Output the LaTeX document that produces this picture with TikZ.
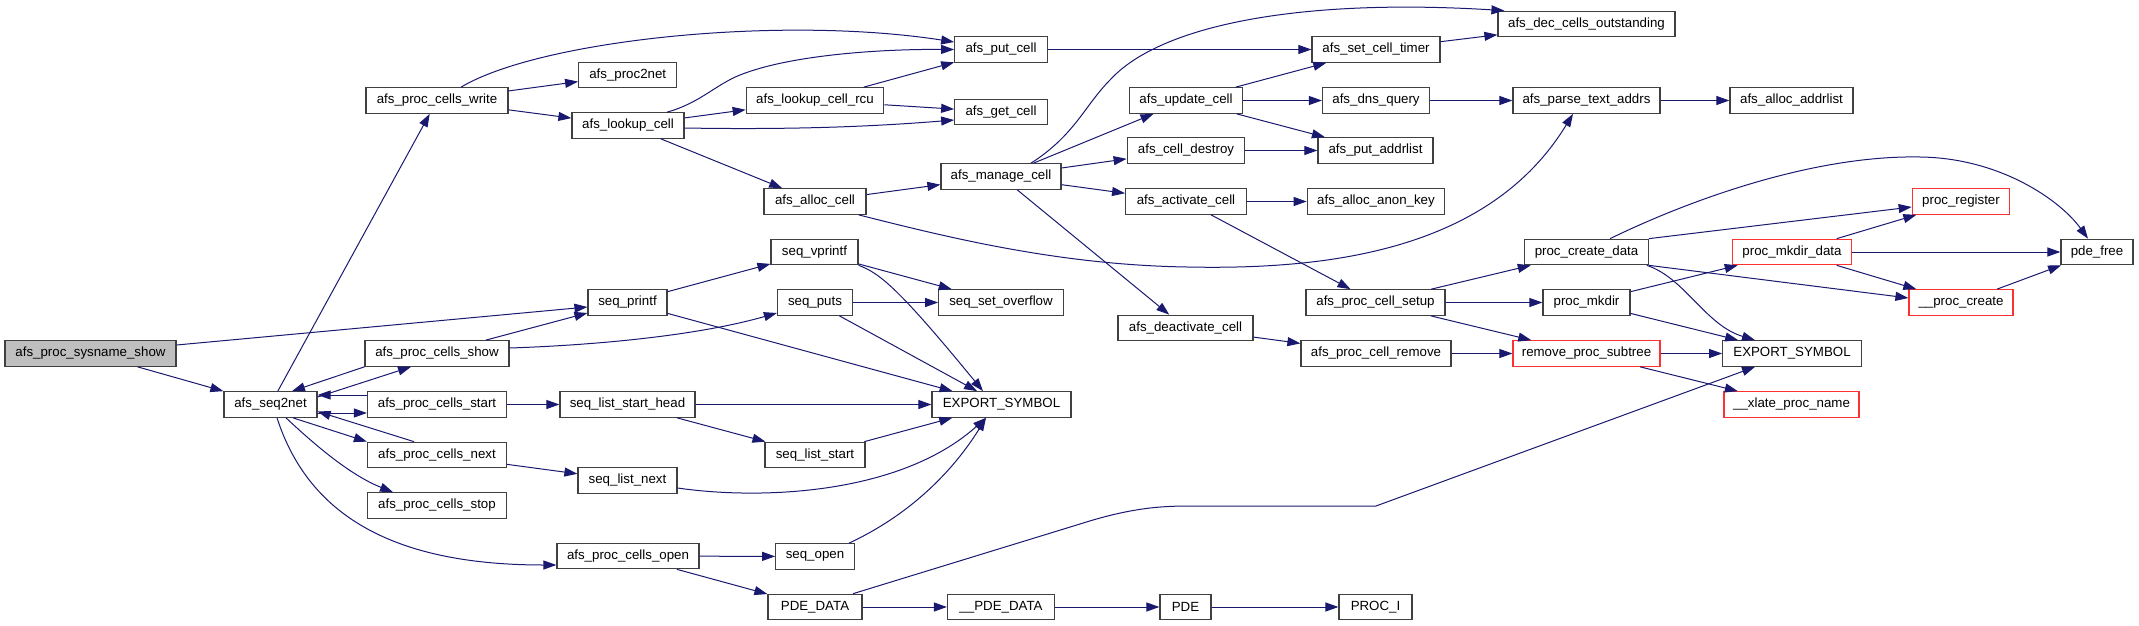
\documentclass[tikz,border=0pt]{standalone}
\usepackage{fontspec}
\setmainfont{Liberation Sans}
\usetikzlibrary{arrows.meta}
\definecolor{edgeblue}{HTML}{191970}
\definecolor{boxgray}{HTML}{404040}
\definecolor{rootfill}{HTML}{BFBFBF}
\definecolor{redline}{HTML}{FF3030}
\begin{document}
\begin{tikzpicture}[x=1pt,y=-1pt,
  fn/.style={draw=boxgray, line width=1.2pt, fill=white, minimum height=25.5pt, inner sep=0pt, font=\fontsize{13.3}{15}\selectfont},
  redfn/.style={fn, draw=redline},
  rootfn/.style={fn, fill=rootfill},
  call/.style={draw=edgeblue, line width=1pt, -{Triangle[length=13pt,width=9pt]}}]
\useasboundingbox (0,0) rectangle (2139,626);

\node[rootfn, minimum width=171pt] (root) at (90.5,353.5) {afs\_proc\_sysname\_show};
\node[fn, minimum width=93pt] (seq2net) at (270.5,404.5) {afs\_seq2net};
\node[fn, minimum width=142pt] (write) at (437,100.5) {afs\_proc\_cells\_write};
\node[fn, minimum width=144pt] (show) at (437,353.5) {afs\_proc\_cells\_show};
\node[fn, minimum width=139pt] (start) at (437,404.5) {afs\_proc\_cells\_start};
\node[fn, minimum width=139pt] (next) at (437,455) {afs\_proc\_cells\_next};
\node[fn, minimum width=139pt] (stop) at (437,505.5) {afs\_proc\_cells\_stop};
\node[fn, minimum width=142pt] (open) at (628,556) {afs\_proc\_cells\_open};
\node[fn, minimum width=98pt] (proc2net) at (627.7,75) {afs\_proc2net};
\node[fn, minimum width=112pt] (lookup) at (628,125.5) {afs\_lookup\_cell};
\node[fn, minimum width=79pt] (printf) at (627.5,302.5) {seq\_printf};
\node[fn, minimum width=135pt] (lsh) at (627.5,404.5) {seq\_list\_start\_head};
\node[fn, minimum width=99pt] (lnext) at (627.5,480.5) {seq\_list\_next};
\node[fn, minimum width=137.5pt] (rcu) at (815,100.5) {afs\_lookup\_cell\_rcu};
\node[fn, minimum width=102pt] (alloc) at (815,201.5) {afs\_alloc\_cell};
\node[fn, minimum width=87pt] (vprintf) at (814.5,252) {seq\_vprintf};
\node[fn, minimum width=75pt] (puts) at (815,302.5) {seq\_puts};
\node[fn, minimum width=100pt] (lstart) at (815,455) {seq\_list\_start};
\node[fn, minimum width=78.5pt] (sopen) at (815,556.5) {seq\_open};
\node[fn, minimum width=94pt] (pdedata) at (815,607) {PDE\_DATA};
\node[fn, minimum width=92.5pt] (putcell) at (1001,49.5) {afs\_put\_cell};
\node[fn, minimum width=92.5pt] (getcell) at (1001,112) {afs\_get\_cell};
\node[fn, minimum width=120pt] (manage) at (1001,176.5) {afs\_manage\_cell};
\node[fn, minimum width=124.5pt] (overflow) at (1001,302.5) {seq\_set\_overflow};
\node[fn, minimum width=139pt] (expa) at (1001.5,404.5) {EXPORT\_SYMBOL};
\node[fn, minimum width=107pt] (pdedatab) at (1001,607) {\_\_PDE\_DATA};
\node[fn, minimum width=113.5pt] (update) at (1186,100.5) {afs\_update\_cell};
\node[fn, minimum width=117.6pt] (destroy) at (1186,150.5) {afs\_cell\_destroy};
\node[fn, minimum width=120.7pt] (activate) at (1186,201.5) {afs\_activate\_cell};
\node[fn, minimum width=135pt] (deactivate) at (1185.5,328) {afs\_deactivate\_cell};
\node[fn, minimum width=51pt] (pde) at (1185.5,607) {PDE};
\node[fn, minimum width=128pt] (timer) at (1376,49.5) {afs\_set\_cell\_timer};
\node[fn, minimum width=107pt] (dns) at (1376,100.5) {afs\_dns\_query};
\node[fn, minimum width=115pt] (putaddr) at (1375.5,150.5) {afs\_put\_addrlist};
\node[fn, minimum width=137.5pt] (anon) at (1376,201.5) {afs\_alloc\_anon\_key};
\node[fn, minimum width=139pt] (setup) at (1375.5,302.5) {afs\_proc\_cell\_setup};
\node[fn, minimum width=150pt] (remove) at (1376,353.5) {afs\_proc\_cell\_remove};
\node[fn, minimum width=73pt] (proci) at (1375.5,607) {PROC\_I};
\node[fn, minimum width=177pt] (dec) at (1586.5,24) {afs\_dec\_cells\_outstanding};
\node[fn, minimum width=147pt] (parse) at (1586.5,100.5) {afs\_parse\_text\_addrs};
\node[fn, minimum width=123.5pt] (pcd) at (1586.5,252) {proc\_create\_data};
\node[fn, minimum width=87pt] (mkdir) at (1586.5,302.5) {proc\_mkdir};
\node[redfn, minimum width=147pt] (rps) at (1586.5,353.5) {remove\_proc\_subtree};
\node[fn, minimum width=123pt] (addrlist) at (1791.5,100.5) {afs\_alloc\_addrlist};
\node[redfn, minimum width=118.6pt] (mkdirdata) at (1792,252) {proc\_mkdir\_data};
\node[fn, minimum width=138.5pt] (expb) at (1792,353.5) {EXPORT\_SYMBOL};
\node[redfn, minimum width=135pt] (xlate) at (1791.5,404.5) {\_\_xlate\_proc\_name};
\node[redfn, minimum width=97.5pt] (register) at (1961,201.5) {proc\_register};
\node[redfn, minimum width=104pt] (pcreate) at (1961,302.5) {\_\_proc\_create};
\node[fn, minimum width=72pt] (pdefree) at (2097,252) {pde\_free};

% left part
\draw[call] (root) -- (seq2net);
\draw[call] ([yshift=8.5pt]root.east) -- ([yshift=-4.5pt]printf.west);
\draw[call] (seq2net) -- (write);
\draw[call] (show.south west) -- ([xshift=21.5pt]seq2net.north);
\draw[call] ([yshift=7.5pt]seq2net.east) -- ([xshift=-26pt]show.south);
\draw[call] ([yshift=9.5pt]start.west) -- ([yshift=9.5pt]seq2net.east);
\draw[call] ([yshift=-8.5pt]seq2net.east) -- ([yshift=-8.5pt]start.west);
\draw[call] ([xshift=-23pt]next.north) -- ([yshift=-7pt]seq2net.east);
\draw[call] ([xshift=22.5pt]seq2net.south) -- (next.north west);
\draw[call] ([xshift=15.5pt]seq2net.south) .. controls (315,445) and (350,475) .. ([xshift=-44pt]stop.north);
\draw[call] ([xshift=6.5pt]seq2net.south) .. controls (310,520) and (400,565) .. ([yshift=-9pt]open.west);
\draw[call] ([xshift=48.7pt]show.north) -- ([yshift=-10.5pt]printf.west);
\draw[call] ([yshift=5.5pt]show.east) .. controls (600,345) and (700,335) .. ([yshift=-10.5pt]puts.west);
\draw[call] (start) -- (lsh);
\draw[call] (next) -- (lnext);
\draw[call] ([xshift=24pt]write.north) .. controls (540,40) and (780,15) .. ([yshift=7.5pt]putcell.west);
\draw[call] (write) -- (proc2net);
\draw[call] (write) -- (lookup);

% lookup / cell management
\draw[call] ([xshift=39pt]lookup.north) .. controls (700,103) and (715,85) .. (740,75) .. controls (790,55) and (880,49) .. (putcell.west);
\draw[call] (lookup) -- (rcu);
\draw[call] ([yshift=-2.5pt]lookup.east) .. controls (800,130) and (880,126) .. ([yshift=-8pt]getcell.west);
\draw[call] (lookup) -- (alloc);
\draw[call] (rcu) -- (putcell);
\draw[call] (rcu) -- (getcell);
\draw[call] (putcell) -- (timer);
\draw[call] (timer) -- (dec);
\draw[call] ([xshift=30pt]manage.north) .. controls (1075,135) and (1085,105) .. (1110,80) .. controls (1160,25) and (1300,-2) .. ([xshift=7pt]dec.north west);
\draw[call] (manage) -- (update);
\draw[call] (manage) -- (destroy);
\draw[call] (manage) -- (activate);
\draw[call] (manage) -- (deactivate);
\draw[call] (alloc) -- (manage);
\draw[call] ([xshift=-8pt]alloc.south east) .. controls (950,238) and (1060,265) .. (1187,267) .. controls (1330,270) and (1490,250) .. ([xshift=-13.5pt]parse.south);
\draw[call] (update) -- (timer);
\draw[call] (update) -- (dns);
\draw[call] (update) -- (putaddr);
\draw[call] (destroy) -- (putaddr);
\draw[call] (activate) -- (anon);
\draw[call] (activate) -- (setup);
\draw[call] (dns) -- (parse);
\draw[call] (parse) -- (addrlist);
\draw[call] (deactivate) -- (remove);
\draw[call] (remove) -- (rps);
\draw[call] (setup) -- (pcd);
\draw[call] (setup) -- (mkdir);
\draw[call] (setup) -- (rps);

% proc part
\draw[call] ([xshift=23.5pt]pcd.north) .. controls (1700,195) and (1820,155) .. (1920,157) .. controls (2000,158) and (2060,200) .. ([xshift=-9pt]pdefree.north);
\draw[call] (pcd.north east) -- ([yshift=-5.5pt]register.west);
\draw[call] (pcd.south east) -- ([yshift=4.5pt]pcreate.west);
\draw[call] ([xshift=-2pt]pcd.south east) .. controls (1685,278) and (1705,325) .. ([xshift=-37pt]expb.north);
\draw[call] (mkdir) -- (mkdirdata);
\draw[call] (mkdir) -- (expb);
\draw[call] (rps) -- (expb);
\draw[call] (rps) -- (xlate);
\draw[call] (mkdirdata) -- (register);
\draw[call] (mkdirdata) -- (pdefree);
\draw[call] (mkdirdata) -- (pcreate);
\draw[call] (pcreate) -- (pdefree);

% seq part
\draw[call] (printf) -- (vprintf);
\draw[call] (printf) -- (expa);
\draw[call] (vprintf) -- (overflow);
\draw[call] (vprintf.south east) .. controls (880,273) and (900,290) .. ([xshift=-18.5pt]expa.north);
\draw[call] (puts) -- (overflow);
\draw[call] (puts) -- (expa);
\draw[call] (lsh) -- (expa);
\draw[call] (lsh) -- (lstart);
\draw[call] (lstart) -- (expa);
\draw[call] ([yshift=-7.5pt]lnext.east) .. controls (760,500) and (900,495) .. ([xshift=-15.5pt]expa.south);
\draw[call] ([xshift=34pt]sopen.north) .. controls (920,510) and (960,460) .. ([xshift=-15.5pt]expa.south);
\draw[call] (open) -- (sopen);
\draw[call] (open) -- (pdedata);
\draw[call] ([xshift=-9.5pt]pdedata.north east) -- (1080,524) .. controls (1130,508) and (1160,506) .. (1190,506) -- (1376,506) -- ([xshift=-37pt]expb.south);
\draw[call] (pdedata) -- (pdedatab);
\draw[call] (pdedatab) -- (pde);
\draw[call] (pde) -- (proci);
\end{tikzpicture}
\end{document}
